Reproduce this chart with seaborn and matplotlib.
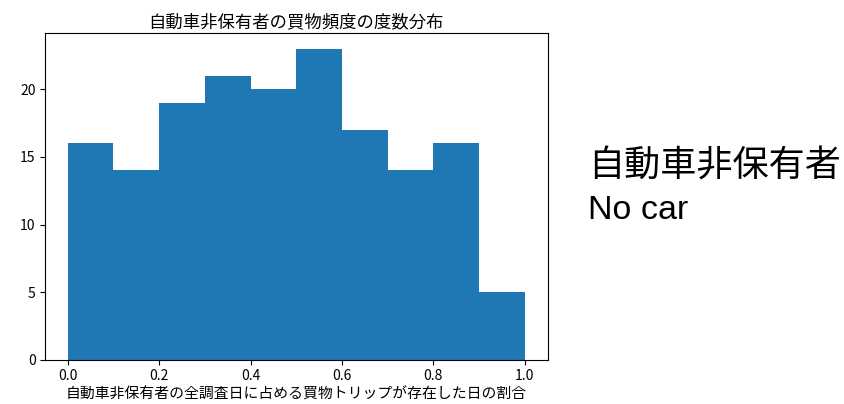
import matplotlib
matplotlib.use("Agg")
import matplotlib.pyplot as plt
import seaborn as sns
import numpy as np
import pandas as pd

bin_edges = [0.0, 0.1, 0.2, 0.3, 0.4, 0.5, 0.6, 0.7, 0.8, 0.9, 1.0]
counts = [16, 14, 19, 21, 20, 23, 17, 14, 16, 5]
title = "自動車非保有者の買物頻度の度数分布"
xlabel = "自動車非保有者の全調査日に占める買物トリップが存在した日の割合"
side_label_jp = "自動車非保有者"
side_label_en = "No car"

sns.set_style("ticks")
plt.rcParams['font.family'] = ['Noto Sans CJK JP', 'DejaVu Sans']
plt.rcParams['text.color'] = 'black'
plt.rcParams['axes.labelcolor'] = 'black'
plt.rcParams['xtick.color'] = 'black'
plt.rcParams['ytick.color'] = 'black'
plt.rcParams['axes.edgecolor'] = 'black'

centers = [(a + b) / 2 for a, b in zip(bin_edges[:-1], bin_edges[1:])]
df = pd.DataFrame({"x": centers, "w": counts})

fig = plt.figure(figsize=(8.44, 4.04), dpi=100)
ax = fig.add_axes([0.053, 0.109, 0.596, 0.809])
sns.histplot(data=df, x="x", weights="w", bins=bin_edges, ax=ax,
             color="#1f77b4", alpha=1, edgecolor="none", linewidth=0)
ax.set_ylabel("")
ax.set_xlabel(xlabel, fontsize=10.7, labelpad=3)
ax.set_title(title, fontsize=12.5, pad=4)
ax.tick_params(labelsize=10, pad=3)
ax.set_xticks([0.0, 0.2, 0.4, 0.6, 0.8, 1.0])
ax.set_yticks([0, 5, 10, 15, 20])
for s in ax.spines.values():
    s.set_visible(True)
    s.set_linewidth(0.8)
    s.set_color('black')

fig.text(0.697, 0.588, side_label_jp, fontsize=26, family=['Noto Sans CJK JP'], va='center', ha='left', color='black')
fig.text(0.697, 0.478, side_label_en, fontsize=24.5, family=['Liberation Sans'], va='center', ha='left', color='black')

fig.savefig("out.png", dpi=100)
